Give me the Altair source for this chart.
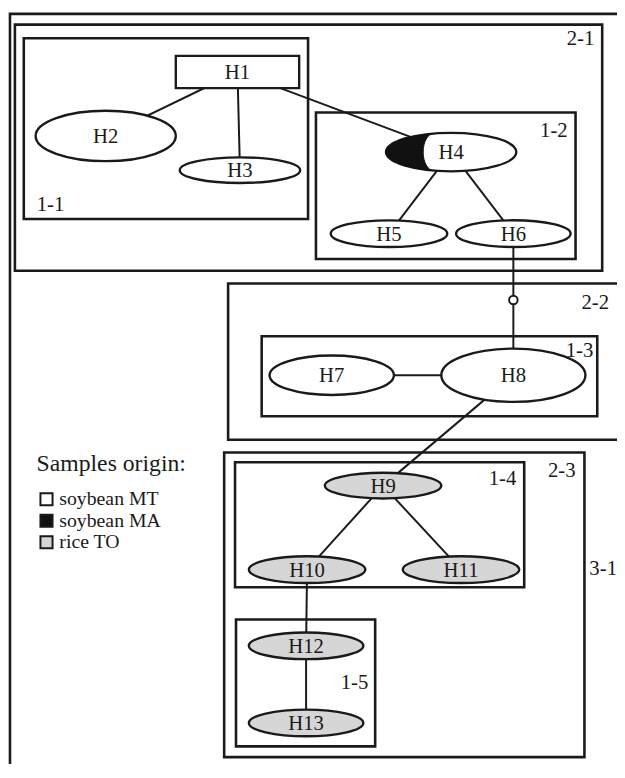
import altair as alt
import pandas as pd

# ---------------- data ----------------
# haplotype nodes drawn as ellipses (centre, radii) and their sample origin
node_names = ["H2", "H3", "H4", "H5", "H6", "H7", "H8", "H9", "H10", "H11", "H12", "H13"]
node_cx = [107, 243, 457, 394, 520, 336, 520, 388, 311, 467, 310, 310]
node_cy = [132, 167, 148.5, 232, 232, 377, 377, 490, 576, 576, 654, 733]
node_rx = [71, 61, 66, 59, 58, 63, 73, 59, 59, 59, 58, 58]
node_ry = [25.5, 13, 19.5, 13.5, 13.5, 20, 27, 13, 13.5, 13.5, 13.5, 13.5]
node_origin = ["soybean MT"] * 7 + ["rice TO"] * 5

# H1 is drawn as a rectangle
h1_name = ["H1"]
h1_x1, h1_x2, h1_y1, h1_y2 = [178], [303], [50], [83]

# edges of the network
edge_from = ["H1", "H1", "H1", "H4", "H4", "H6", "H7", "H8", "H9", "H9", "H10", "H12"]
edge_to = ["H2", "H3", "H4", "H5", "H6", "H8", "H8", "H9", "H10", "H11", "H12", "H13"]

# nested clade boxes
box_names = ["frame", "2-1", "1-1", "1-2", "2-2", "1-3", "2-3", "1-4", "1-5"]
box_x1 = [10, 15, 24, 320, 231, 265, 227, 238, 239]
box_x2 = [700, 610, 312, 583, 640, 605, 592, 531, 380]
box_y1 = [7, 18, 32, 108, 283, 337, 456, 466, 627]
box_y2 = [900, 270, 217, 258, 443, 419, 768, 594, 757]

# clade labels
clade_labels = ["2-1", "1-1", "1-2", "2-2", "1-3", "2-3", "1-4", "1-5", "3-1"]
clade_lx = [588, 51, 561, 603, 587, 569, 509, 359, 611]
clade_ly = [33, 203, 127, 303, 352, 475, 483, 692, 575]

# legend
legend_title = ["Samples origin:"]
legend_items = ["soybean MT", "soybean MA", "rice TO"]
legend_colors = ["#ffffff", "#111111", "#d6d6d6"]
legend_y = [504, 526, 548]

origin_fill = {"soybean MT": "#ffffff", "soybean MA": "#111111", "rice TO": "#d6d6d6"}

# ---------------- helpers ----------------
XS = alt.Scale(domain=[8, 625], nice=False, zero=False)
YS = alt.Scale(domain=[6, 770], nice=False, zero=False, reverse=True)


def X(f):
    return alt.X(f, type="quantitative", scale=XS, axis=None)


def Y(f):
    return alt.Y(f, type="quantitative", scale=YS, axis=None)


def ellipse_path(k):
    return f"M-1,0A1,{k:.4f} 0 1,1 1,0A1,{k:.4f} 0 1,1 -1,0Z"


FONT = "Liberation Serif"
INK = "#1a1a1a"

nodes = pd.DataFrame({
    "name": node_names, "cx": node_cx, "cy": node_cy,
    "rx": node_rx, "ry": node_ry, "origin": node_origin,
})
nodes["shape"] = [ellipse_path(ry / rx) for rx, ry in zip(node_rx, node_ry)]
nodes["size"] = [4 * rx * rx for rx in node_rx]
nodes["fill"] = [origin_fill[o] for o in node_origin]

centres = {n: (x, y) for n, x, y in zip(node_names, node_cx, node_cy)}
centres["H1"] = ((h1_x1[0] + h1_x2[0]) / 2, (h1_y1[0] + h1_y2[0]) / 2)
edges = pd.DataFrame({
    "x": [centres[a][0] for a in edge_from], "y": [centres[a][1] for a in edge_from],
    "x2": [centres[b][0] for b in edge_to], "y2": [centres[b][1] for b in edge_to],
})

boxes = pd.DataFrame({"name": box_names, "x": box_x1, "x2": box_x2, "y": box_y1, "y2": box_y2})
h1 = pd.DataFrame({"name": h1_name, "x": h1_x1, "x2": h1_x2, "y": h1_y1, "y2": h1_y2})
labels = pd.DataFrame({"t": clade_labels, "x": clade_lx, "y": clade_ly})

# H4 shares soybean MA (black crescent on the left)
h4 = nodes[nodes.name == "H4"].iloc[0]
k4 = h4.ry / h4.rx
crescent = pd.DataFrame({
    "cx": [h4.cx], "cy": [h4.cy], "size": [h4["size"]],
    "shape": [f"M-0.27,-{k4*0.962:.4f}A1,{k4:.4f} 0 0,0 -0.27,{k4*0.962:.4f}"
              f"A0.16,{k4*0.962:.4f} 0 0,1 -0.27,-{k4*0.962:.4f}Z"],
})

# mutation step marker on the H6-H8 edge
step = pd.DataFrame({"x": [520], "y": [300]})

node_labels = pd.DataFrame({
    "t": h1_name + node_names,
    "x": [centres["H1"][0]] + node_cx,
    "y": [centres["H1"][1]] + node_cy,
})

legend_sq = pd.DataFrame({"x": [47] * 3, "y": legend_y, "fill": legend_colors})
legend_txt = pd.DataFrame({"t": legend_items, "x": [60] * 3, "y": legend_y})
legend_head = pd.DataFrame({"t": legend_title, "x": [37], "y": [468]})

# ---------------- layers ----------------
box_layer = alt.Chart(boxes).mark_rect(fill="transparent", stroke=INK, strokeWidth=2.6).encode(
    x=X("x"), x2="x2", y=Y("y"), y2="y2")

edge_layer = alt.Chart(edges).mark_rule(color=INK, strokeWidth=2).encode(
    x=X("x"), x2="x2", y=Y("y"), y2="y2")

h1_layer = alt.Chart(h1).mark_rect(fill="white", stroke=INK, strokeWidth=2.4).encode(
    x=X("x"), x2="x2", y=Y("y"), y2="y2")

node_layer = alt.Chart(nodes).mark_point(filled=True, opacity=1, strokeWidth=2.4).encode(
    x=X("cx"), y=Y("cy"),
    shape=alt.Shape("shape:N", scale=None),
    size=alt.Size("size:Q", scale=None),
    fill=alt.Fill("fill:N", scale=None),
    stroke=alt.value(INK),
)

crescent_layer = alt.Chart(crescent).mark_point(filled=True, opacity=1, strokeWidth=1).encode(
    x=X("cx"), y=Y("cy"),
    shape=alt.Shape("shape:N", scale=None),
    size=alt.Size("size:Q", scale=None),
    fill=alt.value("#111111"),
    stroke=alt.value("#111111"),
)

step_layer = alt.Chart(step).mark_point(shape="circle", size=75, filled=True, opacity=1, strokeWidth=2).encode(
    x=X("x"), y=Y("y"), fill=alt.value("white"), stroke=alt.value(INK))

node_text = alt.Chart(node_labels).mark_text(font=FONT, fontSize=21, align="center", baseline="middle",
                                             dy=1, color=INK).encode(
    x=X("x"), y=Y("y"), text="t:N")

clade_text = alt.Chart(labels).mark_text(font=FONT, fontSize=21, align="center", baseline="middle",
                                         color=INK).encode(
    x=X("x"), y=Y("y"), text="t:N")

legend_sq_layer = alt.Chart(legend_sq).mark_point(shape="square", size=150, filled=True, opacity=1,
                                                  strokeWidth=2).encode(
    x=X("x"), y=Y("y"), fill=alt.Fill("fill:N", scale=None), stroke=alt.value(INK))

legend_txt_layer = alt.Chart(legend_txt).mark_text(font=FONT, fontSize=20, align="left", baseline="middle",
                                                   color=INK).encode(
    x=X("x"), y=Y("y"), text="t:N")

legend_head_layer = alt.Chart(legend_head).mark_text(font=FONT, fontSize=24, align="left", baseline="middle",
                                                     color=INK).encode(
    x=X("x"), y=Y("y"), text="t:N")

chart = alt.layer(
    box_layer, edge_layer, h1_layer, node_layer, crescent_layer, step_layer,
    node_text, clade_text, legend_sq_layer, legend_txt_layer, legend_head_layer,
).properties(
    width=617, height=756, padding=0, background="white",
    autosize=alt.AutoSizeParams(type="none"),
).configure_view(strokeWidth=0)

chart.save("out.html", embed_options={"renderer": "svg", "actions": False})
